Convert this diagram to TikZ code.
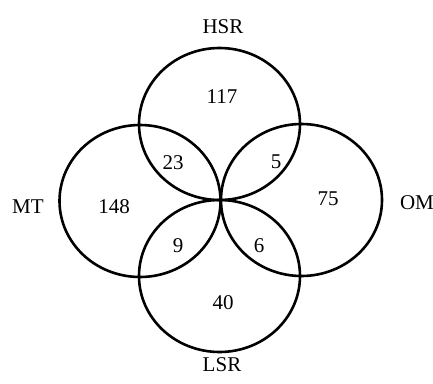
\documentclass[tikz,border=0pt]{standalone}
\usepackage{fontspec}
\setmainfont{Liberation Serif}
\begin{document}
\begin{tikzpicture}[x=1pt,y=-1pt,
  ring/.style={line width=2.6pt},
  lbl/.style={font=\fontsize{21}{24}\selectfont,inner sep=0pt}]
\useasboundingbox (0,0) rectangle (433,383);
\fill[white] (0,0) rectangle (433,383);
\draw[ring] (219.5,124) ellipse [x radius=80.5, y radius=76];
\draw[ring] (140,201) ellipse [x radius=80.5, y radius=76];
\draw[ring] (301.5,200) ellipse [x radius=80.5, y radius=76];
\draw[ring] (219.5,276) ellipse [x radius=80.5, y radius=76];
\node[lbl] (hsr) at (223,27) {HSR};
\node[lbl] (mt) at (28,207) {MT};
\node[lbl] (om) at (417,203) {OM};
\node[lbl] (lsr) at (222,365) {LSR};
\node[lbl] (n117) at (222,97) {117};
\node[lbl] (n23) at (173,163) {23};
\node[lbl] (n5) at (276,162) {5};
\node[lbl] (n148) at (114,207) {148};
\node[lbl] (n75) at (328,199) {75};
\node[lbl] (n9) at (178,246) {9};
\node[lbl] (n6) at (259,246) {6};
\node[lbl] (n40) at (223,303) {40};
\end{tikzpicture}
\end{document}
